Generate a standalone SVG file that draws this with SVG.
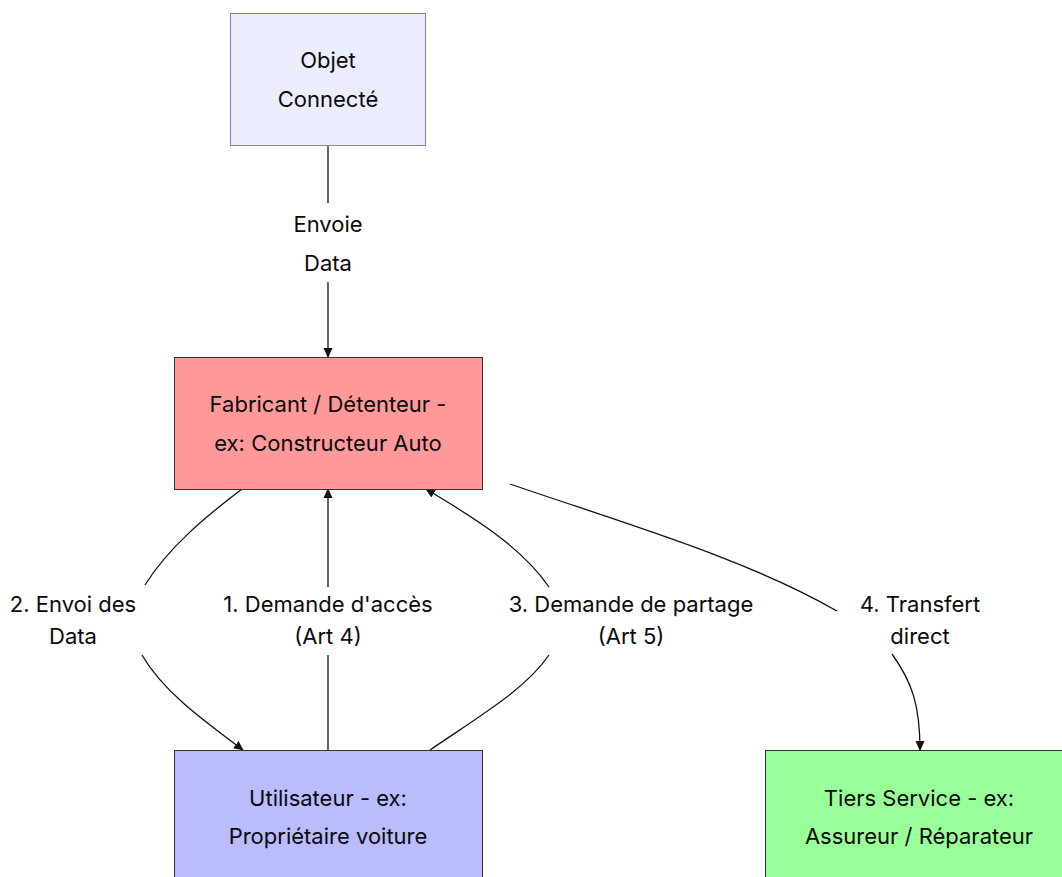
<svg xmlns="http://www.w3.org/2000/svg" width="1062" height="877" viewBox="0 0 1062 877">
<defs>
<style>
text{font-family:Inter,"Noto Sans","Liberation Sans",sans-serif;font-size:22px;fill:#0a0a0a;text-anchor:middle}
.edge{fill:none;stroke:#111;stroke-width:1.3}
.node rect{stroke:#333;stroke-width:1}
</style>
<marker id="arr" viewBox="0 0 10 10" refX="9" refY="5" markerUnits="userSpaceOnUse" markerWidth="10" markerHeight="10" orient="auto">
<path d="M0,0.5 L10,5 L0,9.5 z" fill="#111"/>
</marker>
</defs>
<rect width="1062" height="877" fill="#fff"/>
<g id="connectors">
<path class="edge" d="M328,145 L328,203"/>
<path class="edge" d="M328,282 L328,357" marker-end="url(#arr)"/>
<path class="edge" d="M328,750 L328,655"/>
<path class="edge" d="M328,587 L328,489" marker-end="url(#arr)"/>
<path class="edge" d="M242,489 C205,517 168,548 145,585"/>
<path class="edge" d="M142,655 C162,690 200,718 243,750" marker-end="url(#arr)"/>
<path class="edge" d="M430,750 C478,717 525,690 549,655"/>
<path class="edge" d="M549,587 C522,548 478,520 426,489" marker-end="url(#arr)"/>
<path class="edge" d="M510,484 C620,522 745,558 837,611"/>
<path class="edge" d="M892,654 C912,682 920,705 920,750" marker-end="url(#arr)"/>
<text x="328" y="232">Envoie</text>
<text x="328" y="271">Data</text>
<text x="73" y="612">2. Envoi des</text>
<text x="73" y="644">Data</text>
<text x="328" y="612">1. Demande d'accès</text>
<text x="328" y="644">(Art 4)</text>
<text x="631" y="612">3. Demande de partage</text>
<text x="631" y="644">(Art 5)</text>
<text x="920" y="612">4. Transfert</text>
<text x="920" y="644">direct</text>
</g>
<g id="objet" class="node">
<rect x="230.5" y="13.5" width="195" height="132" fill="#ececff" stroke="#9370db" style="stroke:#9370db"/>
<text x="328" y="68">Objet</text>
<text x="328" y="107">Connecté</text>
</g>
<g id="fabricant" class="node">
<rect x="174.5" y="357.5" width="308" height="132" fill="#ff9999"/>
<text x="328" y="412">Fabricant / Détenteur -</text>
<text x="328" y="451">ex: Constructeur Auto</text>
</g>
<g id="utilisateur" class="node">
<rect x="174.5" y="750.5" width="308" height="132" fill="#bbbbff"/>
<text x="328" y="806">Utilisateur - ex:</text>
<text x="328" y="844">Propriétaire voiture</text>
</g>
<g id="tiers" class="node">
<rect x="765.5" y="750.5" width="308" height="132" fill="#99ff99"/>
<text x="919" y="806">Tiers Service - ex:</text>
<text x="919" y="844">Assureur / Réparateur</text>
</g>
</svg>
